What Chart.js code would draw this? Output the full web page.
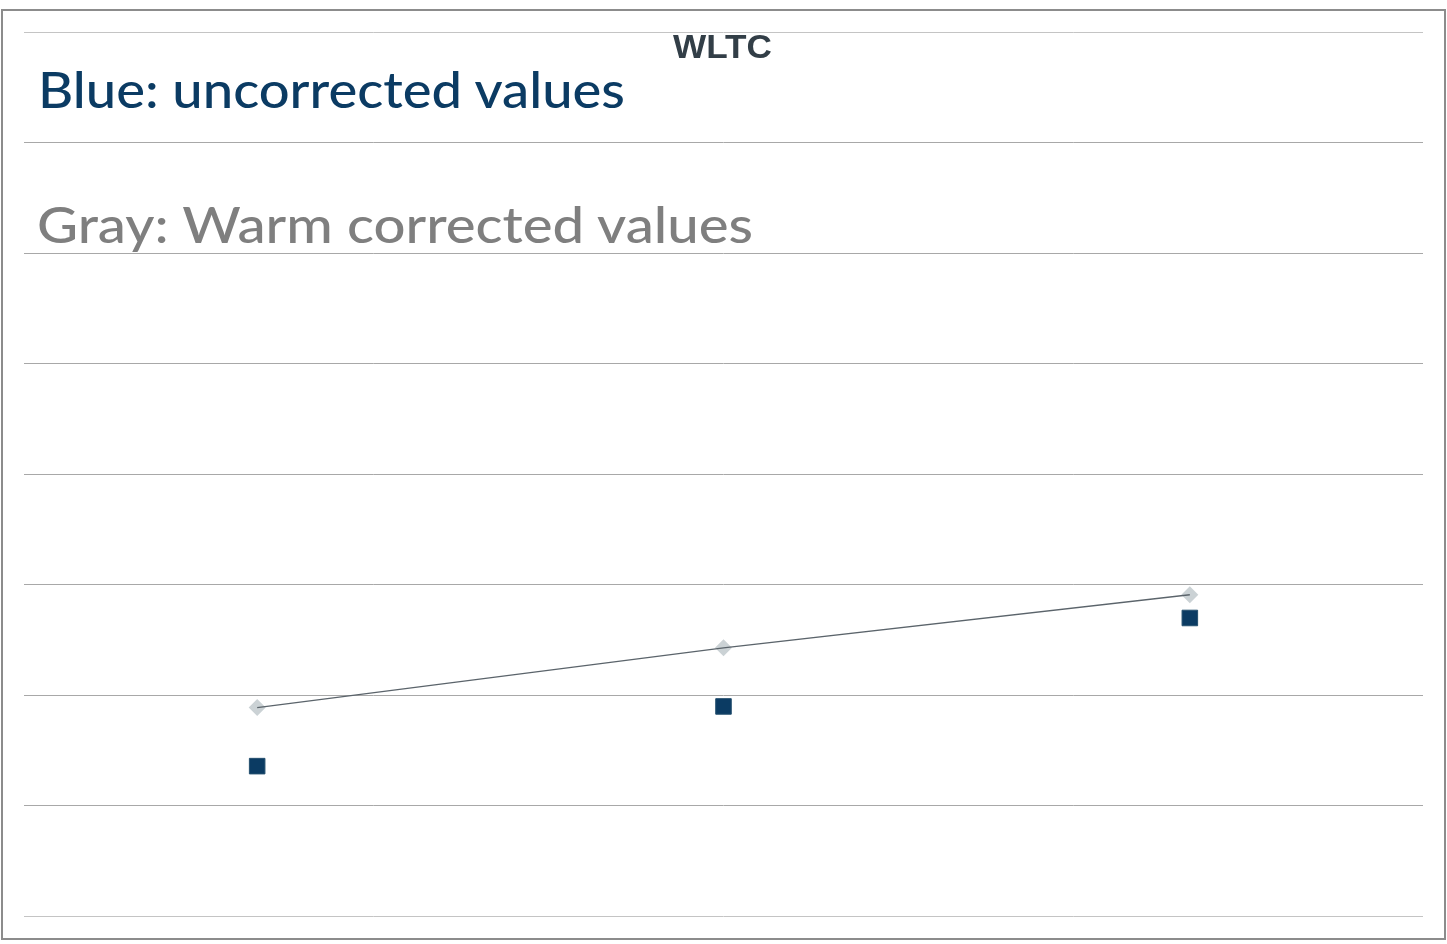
<!DOCTYPE html>
<html lang="en">
<head>
    <meta charset="UTF-8">
    <title>WLTC</title>
    <script src="https://cdn.jsdelivr.net/npm/chart.js"></script>
    <style>
        html, body {
            margin: 0;
            padding: 0;
            background: #ffffff;
            width: 1447px;
            height: 944px;
            overflow: hidden;
        }

        .frame {
            position: absolute;
            left: 1px;
            top: 9px;
            width: 1445px;
            height: 931px;
            box-sizing: border-box;
            border: 2px solid #8c8c8c;
        }

        #chart {
            position: absolute;
            left: 0;
            top: 0;
        }

        .label {
            position: absolute;
            white-space: nowrap;
            line-height: 1;
            transform-origin: left top;
        }

        .note {
            font-family: Lato, "Noto Sans", sans-serif;
            font-size: 51px;
            font-weight: 500;
        }

        #title {
            font-family: "Liberation Sans", Arial, sans-serif;
            font-weight: bold;
            font-size: 33px;
            color: #323e47;
        }
    </style>
</head>
<body>
    <div class="frame"></div>
    <canvas id="chart" width="1447" height="944"></canvas>

    <div id="title" class="label">WLTC</div>
    <div id="noteBlue" class="label note" style="color:#0b3b63;">Blue: uncorrected values</div>
    <div id="noteGray" class="label note" style="color:#7f7f7f;">Gray: Warm corrected values</div>

    <script>
        // categories (three test points, no visible labels)
        const categories = ['1', '2', '3'];
        // warm corrected values (gray diamonds + line)
        const warmCorrected = [1.89, 2.43, 2.91];
        // uncorrected values (blue squares)
        const uncorrected = [1.36, 1.90, 2.70];
        // value axis, gridline every unit
        const yMin = 0;
        const yMax = 8;
        const yStep = 1;

        const ctx = document.getElementById('chart').getContext('2d');

        new Chart(ctx, {
            type: 'line',
            data: {
                labels: categories,
                datasets: [
                    {
                        label: 'Warm corrected (line)',
                        data: warmCorrected,
                        borderColor: '#5b646b',
                        borderWidth: 1.3,
                        pointRadius: 0,
                        tension: 0,
                        order: 1
                    },
                    {
                        label: 'Warm corrected',
                        data: warmCorrected,
                        showLine: false,
                        pointStyle: 'rectRot',
                        pointRadius: 8.5,
                        pointBackgroundColor: '#cbd2d5',
                        pointBorderColor: '#cbd2d5',
                        pointBorderWidth: 0,
                        order: 2
                    },
                    {
                        label: 'Uncorrected',
                        data: uncorrected,
                        showLine: false,
                        pointStyle: 'rect',
                        pointRadius: 11,
                        pointBackgroundColor: '#0b3b63',
                        pointBorderColor: '#25506f',
                        pointBorderWidth: 1,
                        order: 3
                    }
                ]
            },
            options: {
                responsive: false,
                animation: false,
                devicePixelRatio: 1,
                layout: {
                    padding: { left: 24, right: 24, top: 32, bottom: 27.5 }
                },
                plugins: {
                    legend: { display: false },
                    tooltip: { enabled: false },
                    title: { display: false }
                },
                scales: {
                    x: {
                        display: false,
                        offset: true
                    },
                    y: {
                        min: yMin,
                        max: yMax,
                        ticks: { display: false, stepSize: yStep },
                        border: { display: false },
                        grid: {
                            drawTicks: false,
                            lineWidth: 1,
                            color: (c) => (c.index === 0 || c.index === 8) ? '#c4c4c4' : '#a8a8a8'
                        }
                    }
                }
            }
        });

        // place the text boxes and fit them to the widths
        function place(id, left, baseline, width, ascentRatio, centered) {
            const el = document.getElementById(id);
            const fs = parseFloat(getComputedStyle(el).fontSize);
            const w = el.getBoundingClientRect().width;
            const sx = width / w;
            el.style.top = (baseline - ascentRatio * fs) + 'px';
            el.style.left = (centered ? left - width / 2 : left) + 'px';
            el.style.transform = 'scaleX(' + sx + ')';
        }

        document.fonts.ready.then(() => {
            place('title', 722.5, 58.3, 99, 0.8465, true);
            place('noteBlue', 38, 108.3, 587, 0.887, false);
            place('noteGray', 37, 243, 716, 0.887, false);
        });
    </script>
</body>
</html>
